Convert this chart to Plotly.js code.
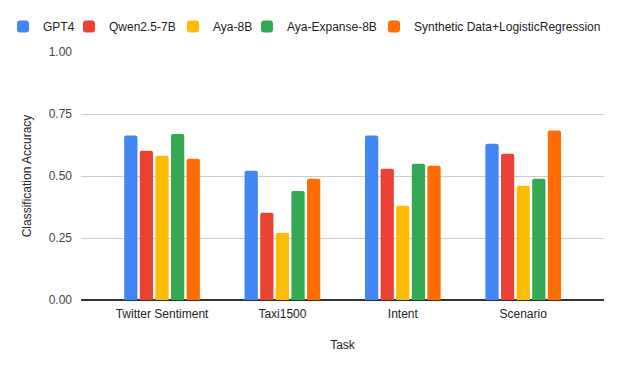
<!DOCTYPE html>
<html>
<head>
<meta charset="utf-8">
<script src="https://cdn.plot.ly/plotly-3.0.1.min.js"></script>
<style>
  html, body { margin: 0; padding: 0; background: #fff; }
  #chart { width: 623px; height: 371px; }
</style>
</head>
<body>
<div id="chart"></div>
<script>
// tasks on the x axis
let tasks = ["Twitter Sentiment", "Taxi1500", "Intent", "Scenario"];

// accuracy per model
let gpt4 = [0.663, 0.521, 0.663, 0.630];
let qwen = [0.602, 0.352, 0.529, 0.590];
let aya8b = [0.582, 0.271, 0.380, 0.461];
let ayaExpanse = [0.669, 0.440, 0.549, 0.489];
let synthetic = [0.570, 0.489, 0.541, 0.683];

let modelNames = ["GPT4", "Qwen2.5-7B", "Aya-8B", "Aya-Expanse-8B", "Synthetic Data+LogisticRegression"];
let modelColors = ["#4285f4", "#ea4335", "#fbbc04", "#34a853", "#ff6d01"];
let series = [gpt4, qwen, aya8b, ayaExpanse, synthetic];

// one legend box per model so the entries sit in one row like the original
let legendLeft = [3, 69, 173, 247, 374];
let legendIds = ["legend", "legend2", "legend3", "legend4", "legend5"];

let data = series.map((vals, i) => ({
    x: tasks,
    y: vals,
    name: modelNames[i],
    type: "bar",
    marker: {color: modelColors[i]},
    legend: legendIds[i],
    hoverinfo: "x+y+name"
}));

let layout = {
    width: 623,
    height: 371,
    margin: {l: 81, r: 19, t: 52, b: 71},
    paper_bgcolor: "#fff",
    plot_bgcolor: "#fff",
    font: {family: "Arial, 'Liberation Sans', sans-serif", size: 12, color: "#222"},
    barmode: "group",
    bargap: 0.352,
    bargroupgap: 0.15,
    barcornerradius: 2,
    showlegend: true,
    xaxis: {
        type: "category",
        range: [-0.673, 3.671],
        showgrid: false,
        showline: false,
        ticks: "",
        ticklabelstandoff: 5,
        tickfont: {size: 12, color: "#222"},
        title: {text: "Task", font: {size: 12, color: "#222"}, standoff: 20},
        automargin: false,
        fixedrange: true
    },
    yaxis: {
        range: [0, 1],
        tickvals: [0, 0.25, 0.5, 0.75, 1],
        ticktext: ["0.00", "0.25", "0.50", "0.75", "1.00"],
        showgrid: true,
        gridcolor: "#cccccc",
        gridwidth: 1,
        zeroline: true,
        zerolinecolor: "#333333",
        zerolinewidth: 1.5,
        showline: false,
        ticks: "",
        ticklabelstandoff: 8,
        tickfont: {size: 12, color: "#444"},
        title: {text: "Classification Accuracy", font: {size: 12, color: "#222"}, standoff: 14},
        automargin: false,
        fixedrange: true
    }
};

legendIds.forEach((id, i) => {
    layout[id] = {
        orientation: "h",
        xref: "container",
        yref: "container",
        x: legendLeft[i] / 623,
        y: 1 - 12 / 371,
        xanchor: "left",
        yanchor: "top",
        bgcolor: "rgba(0,0,0,0)",
        font: {size: 12, color: "#222"}
    };
});

Plotly.newPlot("chart", data, layout, {displayModeBar: false, staticPlot: true});
</script>
</body>
</html>
